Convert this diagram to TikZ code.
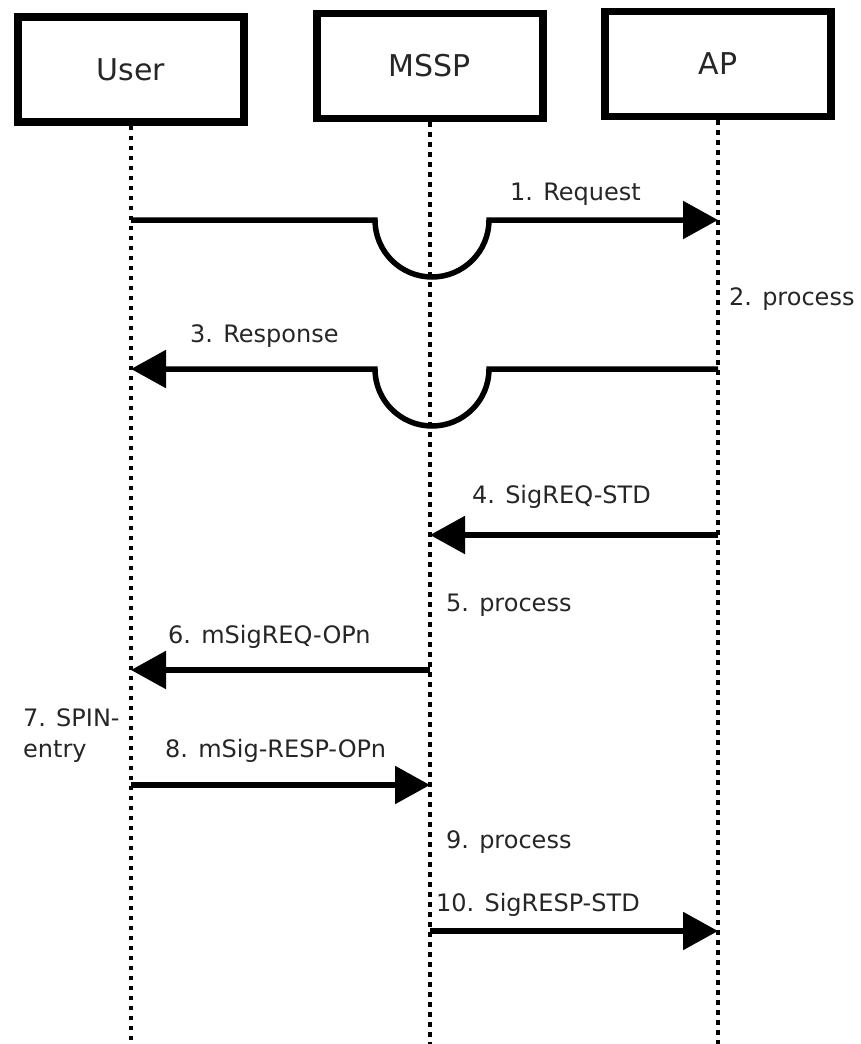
\documentclass[tikz,border=0pt]{standalone}
\usepackage{fontspec}
\setmainfont{DejaVu Sans}
\usetikzlibrary{arrows.meta}
\begin{document}
\begin{tikzpicture}[x=1pt,y=-1pt,
  actor/.style={draw, line width=7.5pt, minimum width=226pt, minimum height=105pt,
    inner sep=0pt, font=\fontsize{30}{36}\selectfont, text=black!85},
  lifeline/.style={line width=4.5pt, dash pattern=on 4.5pt off 5.5pt},
  msg/.style={line width=5.5pt, -{Triangle[length=35pt,width=37pt]}},
  lbl/.style={font=\fontsize{24}{31}\selectfont, anchor=base west, inner sep=0pt, text=black!85}]
\useasboundingbox (0,0) rectangle (860,1044);

% participants
\node[actor] (user) at (131,69.5) {User};
\node[actor] (mssp) at (430,66) {MSSP};
\node[actor] (ap)   at (718,64) {AP};

% lifelines
\coordinate (userEnd) at (131,1044);
\coordinate (msspEnd) at (430,1044);
\coordinate (apEnd)   at (718,1044);
\draw[lifeline] (user.south) -- (userEnd);
\draw[lifeline] (mssp.south) -- (msspEnd);
\draw[lifeline] (ap.south) -- (apEnd);

% message end points on the lifelines
\coordinate (u1) at (131,220);  \coordinate (a1) at (718,220);
\coordinate (a3) at (718,369);  \coordinate (u3) at (131,369);
\coordinate (a4) at (718,535);  \coordinate (m4) at (430,535);
\coordinate (m6) at (430,670);  \coordinate (u6) at (131,670);
\coordinate (u8) at (131,785);  \coordinate (m8) at (430,785);
\coordinate (m10) at (430,931); \coordinate (a10) at (718,931);

% messages (1 and 3 hop over the MSSP lifeline)
\draw[msg] (u1) -- (375,220) arc[start angle=180, end angle=360, radius=57pt] -- (a1);
\draw[msg] (a3) -- (489,369) arc[start angle=0, end angle=-180, radius=57pt] -- (u3);
\draw[msg] (a4) -- (m4);
\draw[msg] (m6) -- (u6);
\draw[msg] (u8) -- (m8);
\draw[msg] (m10) -- (a10);

% labels
\node[lbl] (t1) at (510,200) {1. Request};
\node[lbl] (t2) at (729,305) {2. process};
\node[lbl] (t3) at (190,342) {3. Response};
\node[lbl] (t4) at (472,503) {4. SigREQ-STD};
\node[lbl] (t5) at (446,611) {5. process};
\node[lbl] (t6) at (168,643) {6. mSigREQ-OPn};
\node[lbl, anchor=north west, align=left] (t7) at (23,708) {7. SPIN-\\entry};
\node[lbl] (t8) at (165,757) {8. mSig-RESP-OPn};
\node[lbl] (t9) at (446,848) {9. process};
\node[lbl] (t10) at (436,911) {10. SigRESP-STD};
\end{tikzpicture}
\end{document}
